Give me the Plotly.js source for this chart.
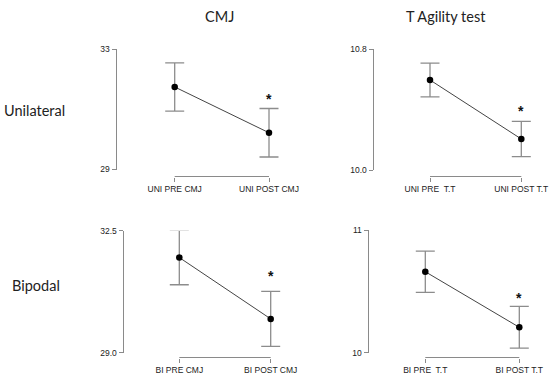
<!DOCTYPE html>
<html>
<head>
<meta charset="utf-8">
<script src="https://cdn.plot.ly/plotly-3.0.1.min.js"></script>
<style>html,body{margin:0;padding:0;background:#fff;}#chart{width:550px;height:379px;}</style>
</head>
<body>
<div id="chart"></div>
<script>
// ---- data ----
const columnTitles = ['CMJ', 'T Agility test'];
const rowTitles = ['Unilateral', 'Bipodal'];
const xPos = [0, 1];

const uniCmjLabels = ['UNI PRE CMJ', 'UNI POST CMJ'];
const uniCmjMean = [31.74, 30.22];
const uniCmjSD = [0.80, 0.805];
const uniCmjTicks = [29, 33];
const uniCmjTickText = ['29', '33'];
const uniCmjStar = [31.45];

const uniTtLabels = ['UNI PRE  T.T', 'UNI POST T.T'];
const uniTtMean = [10.595, 10.205];
const uniTtSD = [0.112, 0.116];
const uniTtTicks = [10.0, 10.8];
const uniTtTickText = ['10.0', '10.8'];
const uniTtStar = [10.41];

const biCmjLabels = ['BI PRE CMJ', 'BI POST CMJ'];
const biCmjMean = [31.73, 29.97];
const biCmjSD = [0.78, 0.79];
const biCmjTicks = [29.0, 32.5];
const biCmjTickText = ['29.0', '32.5'];
const biCmjStar = [31.28];

const biTtLabels = ['BI PRE  T.T', 'BI POST T.T'];
const biTtMean = [10.66, 10.207];
const biTtSD = [0.168, 0.17];
const biTtTicks = [10, 11];
const biTtTickText = ['10', '11'];
const biTtStar = [10.47];

// ---- geometry (pixels) ----
const W = 550, H = 379;
const geom = [
  {axisX: 116.5, preX: 174.7, postX: 269.0, top: 49.0, bot: 169.5, bracketY: 176.5},
  {axisX: 373.5, preX: 430.0, postX: 521.3, top: 49.0, bot: 170.0, bracketY: 176.5},
  {axisX: 123.5, preX: 179.3, postX: 270.7, top: 230.7, bot: 352.7, bracketY: 357.5},
  {axisX: 368.5, preX: 425.3, postX: 519.3, top: 230.0, bot: 352.7, bracketY: 357.5}
];
const panelData = [
  {labels: uniCmjLabels, mean: uniCmjMean, sd: uniCmjSD, ticks: uniCmjTicks, tickText: uniCmjTickText, star: uniCmjStar},
  {labels: uniTtLabels, mean: uniTtMean, sd: uniTtSD, ticks: uniTtTicks, tickText: uniTtTickText, star: uniTtStar},
  {labels: biCmjLabels, mean: biCmjMean, sd: biCmjSD, ticks: biCmjTicks, tickText: biCmjTickText, star: biCmjStar},
  {labels: biTtLabels, mean: biTtMean, sd: biTtSD, ticks: biTtTicks, tickText: biTtTickText, star: biTtStar}
];

const axisGrey = '#8a8a8a';
const tickFont = {family: 'Liberation Sans, Arial, sans-serif', size: 8.5, color: '#222'};
const traces = [];
const layout = {
  width: W, height: H,
  margin: {l: 0, r: 0, t: 0, b: 0},
  paper_bgcolor: '#fff', plot_bgcolor: 'rgba(0,0,0,0)',
  showlegend: false,
  shapes: [],
  annotations: []
};

panelData.forEach((p, i) => {
  const g = geom[i];
  const n = i + 1;
  const xa = 'x' + (n === 1 ? '' : n), ya = 'y' + (n === 1 ? '' : n);
  const xKey = 'xaxis' + (n === 1 ? '' : n), yKey = 'yaxis' + (n === 1 ? '' : n);
  const right = g.axisX + 170;
  const unit = g.postX - g.preX;
  layout[xKey] = {
    domain: [g.axisX / W, right / W],
    range: [(g.axisX - g.preX) / unit, (right - g.preX) / unit],
    anchor: 'free', position: 1 - g.bracketY / H,
    showgrid: false, zeroline: false, showline: false,
    tickmode: 'array', tickvals: xPos, ticktext: p.labels,
    ticks: 'outside', ticklen: 4, tickwidth: 1, tickcolor: axisGrey,
    tickfont: tickFont, fixedrange: true
  };
  layout[yKey] = {
    domain: [1 - g.bot / H, 1 - g.top / H],
    range: [p.ticks[0], p.ticks[1]],
    anchor: xa,
    showgrid: false, zeroline: false, showline: true, linecolor: axisGrey, linewidth: 1,
    tickmode: 'array', tickvals: p.ticks, ticktext: p.tickText,
    ticks: 'outside', ticklen: 4, tickwidth: 1, tickcolor: axisGrey,
    tickfont: tickFont, fixedrange: true
  };
  layout.shapes.push({
    type: 'line', xref: xa, yref: 'paper',
    x0: xPos[0], x1: xPos[1], y0: 1 - g.bracketY / H, y1: 1 - g.bracketY / H,
    line: {color: axisGrey, width: 1}
  });
  traces.push({
    type: 'scatter', mode: 'lines+markers', x: xPos, y: p.mean,
    xaxis: xa, yaxis: ya, cliponaxis: false,
    line: {color: '#444', width: 1},
    marker: {color: '#000', size: 6.5},
    error_y: {type: 'data', array: p.sd, visible: true, color: '#8c8c8c', thickness: 1.3, width: 9.5}
  });
  layout.annotations.push({
    text: '<b>*</b>', xref: xa, yref: ya, x: xPos[1], y: p.star[0],
    showarrow: false, xanchor: 'center', yanchor: 'middle', yshift: -3,
    font: {family: 'Liberation Sans, Arial, sans-serif', size: 14, color: '#111'}
  });
});

const titleFont = {family: 'Lato, Carlito, sans-serif', size: 14.5, color: '#222'};
layout.annotations.push(
  {text: columnTitles[0], xref: 'paper', yref: 'paper', x: 219.5 / W, y: 1 - 16 / H, showarrow: false, font: titleFont, xanchor: 'center', yanchor: 'middle'},
  {text: columnTitles[1], xref: 'paper', yref: 'paper', x: 446 / W, y: 1 - 16 / H, showarrow: false, font: titleFont, xanchor: 'center', yanchor: 'middle'},
  {text: rowTitles[0], xref: 'paper', yref: 'paper', x: 34 / W, y: 1 - 110.5 / H, showarrow: false, font: titleFont, xanchor: 'center', yanchor: 'middle'},
  {text: rowTitles[1], xref: 'paper', yref: 'paper', x: 35.5 / W, y: 1 - 285.5 / H, showarrow: false, font: titleFont, xanchor: 'center', yanchor: 'middle'}
);

Plotly.newPlot('chart', [].concat(traces), layout, {displayModeBar: false, staticPlot: true});
</script>
</body>
</html>
